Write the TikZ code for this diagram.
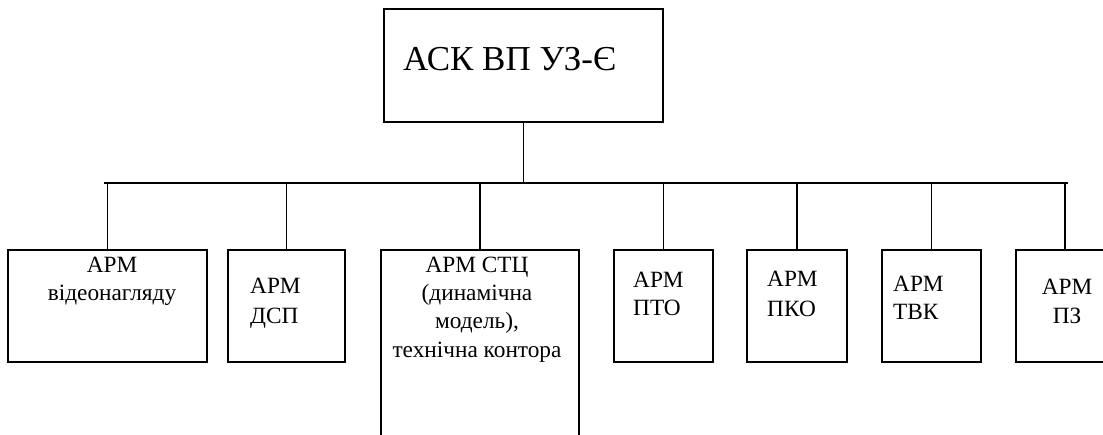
\documentclass[tikz,border=0pt]{standalone}
\usepackage{fontspec}
\setmainfont{Liberation Serif}
\begin{document}
\begin{tikzpicture}[x=1pt,y=-1pt,
  box/.style={draw, line width=1.1pt, rectangle, inner sep=0pt, outer sep=0pt},
  lbl/.style={font=\fontsize{23.3}{28}\selectfont, inner sep=0pt},
  conn/.style={line width=1.3pt}]
\useasboundingbox (0,0) rectangle (1103,434);
% top box
\node[box, minimum width=279pt, minimum height=113pt] (top) at (523.5,65.5) {};
\node[font=\fontsize{35}{40}\selectfont, anchor=base west, inner sep=0pt] (toptext) at (403,70) {АСК ВП УЗ-Є};
% lower boxes
\node[box, minimum width=199pt, minimum height=112pt] (b1) at (107.5,306) {};
\node[box, minimum width=117pt, minimum height=112pt] (b2) at (286.5,306) {};
\node[box, minimum width=198pt, minimum height=190pt] (b3) at (480,345) {};
\node[box, minimum width=99pt, minimum height=112pt] (b4) at (663.5,306) {};
\node[box, minimum width=100pt, minimum height=112pt] (b5) at (797,306) {};
\node[box, minimum width=99pt, minimum height=112pt] (b6) at (931.5,306) {};
\node[box, minimum width=98pt, minimum height=112pt] (b7) at (1065,306) {};
% bus
\coordinate (busL) at (104,183);
\coordinate (busR) at (1068,183);
\draw[conn] (busL) -- (busR);
\draw[conn] (top.south) -- (top.south |- busL);
\foreach \b in {b1,b2,b3,b4,b5,b6,b7}
  \draw[conn] (\b.north) -- (\b.north |- busL);
% labels
\node[lbl, anchor=base] (t1a) at (112,272) {АРМ};
\node[lbl, anchor=base] (t1b) at (112,300) {відеонагляду};
\node[lbl, anchor=base west] (t2a) at (250,293) {АРМ};
\node[lbl, anchor=base west] (t2b) at (250,323) {ДСП};
\node[lbl, anchor=base] (t3a) at (477,272) {АРМ СТЦ};
\node[lbl, anchor=base] (t3b) at (477,300) {(динамічна};
\node[lbl, anchor=base] (t3c) at (477,328) {модель),};
\node[lbl, anchor=base] (t3d) at (477,357) {технічна контора};
\node[lbl, anchor=base west] (t4a) at (633,287) {АРМ};
\node[lbl, anchor=base west] (t4b) at (633,315) {ПТО};
\node[lbl, anchor=base west] (t5a) at (767,286) {АРМ};
\node[lbl, anchor=base west] (t5b) at (767,316) {ПКО};
\node[lbl, anchor=base west] (t6a) at (893,291) {АРМ};
\node[lbl, anchor=base west] (t6b) at (893,319) {ТВК};
\node[lbl, anchor=base] (t7a) at (1067,294) {АРМ};
\node[lbl, anchor=base] (t7b) at (1067,323) {ПЗ};
\end{tikzpicture}
\end{document}
